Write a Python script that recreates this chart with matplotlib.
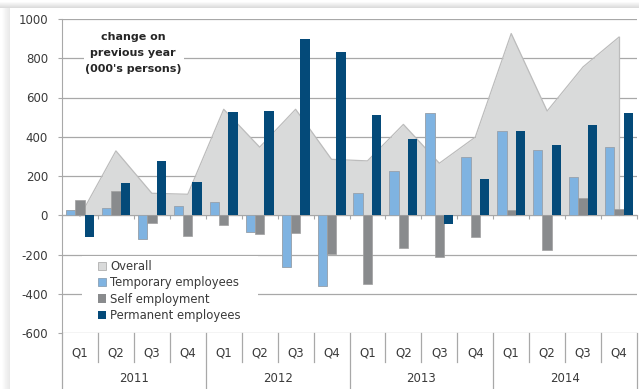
import numpy as np
import matplotlib
matplotlib.use("Agg")
import matplotlib.pyplot as plt
from matplotlib.patches import Patch, Rectangle
from matplotlib.transforms import blended_transform_factory

plt.rcParams['font.family'] = ['DejaVu Sans']
plt.rcParams['axes.unicode_minus'] = False

# quarterly change on previous year, thousands of persons
years = ['2011', '2012', '2013', '2014']
quarters = ['Q1', 'Q2', 'Q3', 'Q4']
overall = [-5, 328, 112, 107, 540, 347, 540, 285, 277, 463, 265, 398, 926, 531, 756, 908]
temporary = [25, 35, -120, 45, 70, -85, -265, -360, 115, 225, 522, 295, 428, 332, 193, 347]
self_emp = [77, 124, -40, -105, -50, -95, -90, -195, -350, -165, -215, -110, 25, -175, 90, 30]
permanent = [-110, 165, 274, 168, 524, 531, 896, 833, 509, 391, -45, 187, 429, 359, 459, 519]

c_overall = '#d9dada'
c_temp = '#7fb3e1'
c_self = '#898b8d'
c_perm = '#044a79'
grid_c = '#a8a8a8'
txt_c = '#3a3a3a'

W, H = 639, 389
fig = plt.figure(figsize=(W / 100, H / 100), dpi=100)

# soft shadow around the chart box
bg = np.ones((H, W))
rows = np.arange(H)[:, None]
cols = np.arange(W)[None, :]
top = np.clip((rows - 1) / 7.0, 0, 1) * (rows < 8)
left = np.clip((cols - 1) / 9.0, 0, 1) * (cols < 10) * (rows >= 8)
bg = bg - 0.16 * top - 0.10 * left
bg_ax = fig.add_axes([0, 0, 1, 1], zorder=-5)
bg_ax.imshow(bg, cmap='gray', vmin=0, vmax=1, aspect='auto', interpolation='bilinear')
bg_ax.axis('off')

x0, x1 = 62, 637
y_top, y_bot = 19, 333
ax = fig.add_axes([x0 / W, (H - y_bot) / H, (x1 - x0) / W, (y_bot - y_top) / H])
ax.set_facecolor('none')

n = len(overall)
x = np.arange(n)
w = 0.26

ax.fill_between(x, overall, 0, color=c_overall, zorder=1, lw=0)
ax.plot(x, overall, color='#bcbcbc', lw=0.9, zorder=1.2)
ax.plot([x[-1], x[-1]], [0, overall[-1]], color='#bcbcbc', lw=0.9, zorder=1.2)

ax.bar(x - w, temporary, w, color=c_temp, edgecolor='#9aa6b2', linewidth=0.7, zorder=3)
ax.bar(x, self_emp, w, color=c_self, edgecolor='#a0a0a0', linewidth=0.5, zorder=3)
ax.bar(x + w, permanent, w, color=c_perm, linewidth=0, zorder=3)

ax.set_xlim(-0.5, n - 0.5)
ax.set_ylim(-600, 1000)
ax.set_yticks(range(-600, 1001, 200))
ax.yaxis.grid(True, color=grid_c, lw=0.9)
ax.set_axisbelow(True)
ax.tick_params(axis='y', length=3, color=grid_c, labelsize=8.5, labelcolor=txt_c, pad=7)

# horizontal axis drawn through zero, ticks at category boundaries
ax.spines['bottom'].set_position(('data', 0))
ax.spines['bottom'].set_color(grid_c)
ax.spines['bottom'].set_zorder(2)
ax.set_xticks(np.arange(-0.5, n, 1))
ax.set_xticklabels([])
ax.tick_params(axis='x', length=3, color=grid_c, direction='out')
ax.spines['top'].set_visible(False)
ax.spines['right'].set_visible(False)
ax.spines['left'].set_color(grid_c)
ax.spines['left'].set_bounds(-600, 1000)

# two-level category labels underneath the plot
tr = blended_transform_factory(ax.transData, ax.transAxes)
hpx = y_bot - y_top
q_low = -(362 - y_bot) / hpx
y_low = -(H - y_bot) / hpx
for i in range(n):
    ax.text(i, -(352.5 - y_bot) / hpx, quarters[i % 4], transform=tr, ha='center', va='center',
            fontsize=8.5, color=txt_c)
for b in np.arange(-0.5, n + 0.5, 1):
    depth = y_low if (b + 0.5) % 4 == 0 else q_low
    ax.plot([b, b], [0, depth], transform=tr, color=grid_c, lw=0.9, clip_on=False)
for j, yr in enumerate(years):
    ax.text(4 * j + 1.5, -(379 - y_bot) / hpx, yr, transform=tr, ha='center', va='center',
            fontsize=8.5, color=txt_c)

# white patches behind the note and the legend hide the gridlines there
ax.add_patch(Rectangle((84 / W, (H - 78) / H), 100 / W, 50 / H, transform=fig.transFigure,
                       facecolor='white', edgecolor='none', zorder=0.8))
ax.add_patch(Rectangle((82 / W, (H - 326) / H), 176 / W, 70 / H, transform=fig.transFigure,
                       facecolor='white', edgecolor='none', zorder=0.8))

ax.text(133 / W, (H - 53) / H, "change on\nprevious year\n(000's persons)", transform=fig.transFigure,
        ha='center', va='center', fontsize=8, fontweight='bold', color='#262626', linespacing=1.75,
        zorder=4)

handles = [Patch(facecolor=c_overall, edgecolor='#b0b0b0', lw=0.6),
           Patch(facecolor=c_temp, edgecolor='#8aa0b5', lw=0.6),
           Patch(facecolor=c_self, edgecolor='none'),
           Patch(facecolor=c_perm, edgecolor='none')]
labels = ['Overall', 'Temporary employees', 'Self employment', 'Permanent employees']
leg = ax.legend(handles, labels, loc='upper left', bbox_to_anchor=(98 / W, (H - 260) / H),
                bbox_transform=fig.transFigure, fontsize=8.4, frameon=False,
                handlelength=0.72, handleheight=0.72, handletextpad=0.3, labelspacing=0.28,
                borderpad=0, borderaxespad=0)
for t in leg.get_texts():
    t.set_color(txt_c)
leg.set_zorder(5)

fig.savefig('out.png', dpi=100)
